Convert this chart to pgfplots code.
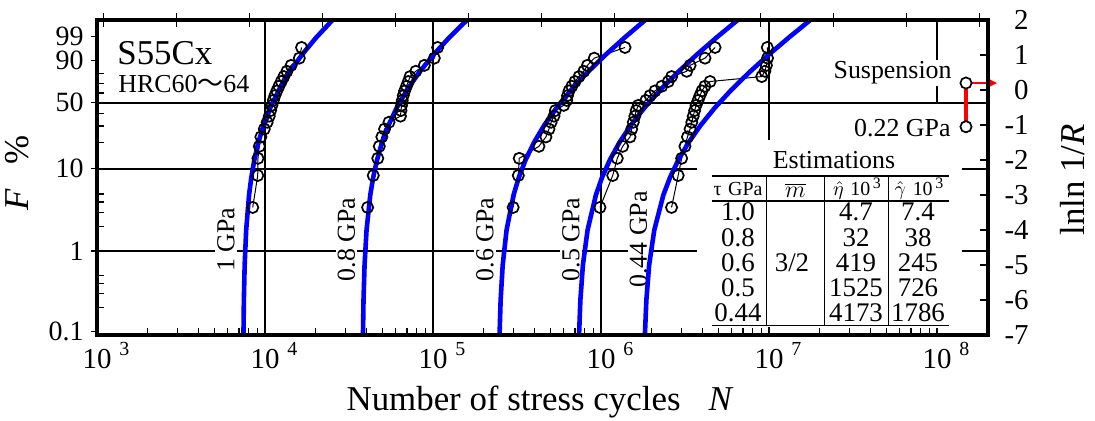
\documentclass[border=0pt]{standalone}
\usepackage{fontspec}
\setmainfont{Liberation Serif}
\newfontfamily\cjk{Noto Sans CJK JP}
\usepackage{pgfplots}
\pgfplotsset{compat=1.18}
\usepackage{pgfplotstable}
\usetikzlibrary{arrows.meta}

\newcommand\fsz[1]{\fontsize{#1}{#1}\selectfont}
\newcommand\dec[1]{10\rlap{\hspace{4bp}\raisebox{6.2bp}{\fsz{10}#1}}}

% lnln(1/R) at median ranks (i-0.3)/(n+0.4), n=20; N for each stress level
\pgfplotstableread{
v       s1     s2      s3       s4       s5
-3.355  8450   40800   300000   986000   2630000
-2.442  9050   44100   322000   1174000  2880000
-1.952  9080   46900   326000   1250000  3020000
-1.609  9250   47900   427000   1346000  3160000
-1.340  9450   49600   470000   1489000  3270000
-1.116  9900   51500   490000   1523000  3390000
-0.921  10300  54700   505000   1557000  3470000
-0.747  10600  64000   525000   1590000  3540000
-0.587  10800  64500   535000   1620000  3610000
-0.438  11000  65000   600000   1667000  3680000
-0.297  11200  65600   625000   1850000  3780000
-0.160  11450  66500   632000   1959000  3880000
-0.026  11750  67800   645000   2096000  3990000
0.107   12100  69500   670000   2300000  4150000
0.243   12500  71300   700000   2516000  4460000
0.384   12950  73000   740000   2633000  9050000
0.535   13500  79000   790000   3238000  9450000
0.704   14300  88800   830000   3390000  9650000
0.910   16000  101800  912000   4160000  9800000
1.216   16500  106600  1390000  4775000  9770000
}\fails

\begin{document}
\begin{tikzpicture}
\begin{axis}[
  scale only axis, width=445.5bp, height=157.5bp,
  xmode=log, xmin=1000, xmax=2.012e8, ymin=-7, ymax=2,
  axis line style={line width=2bp},
  tick style={line width=0.6bp, black},
  tick align=inside,
  major tick length=3.5bp, minor tick length=3.5bp,
  xtick={1e3,1e4,1e5,1e6,1e7,1e8},
  xticklabels={\dec{3},\dec{4},\dec{5},\dec{6},\dec{7},\dec{8}},
  minor xtick={2e3,3e3,4e3,5e3,6e3,7e3,8e3,9e3,
    2e4,3e4,4e4,5e4,6e4,7e4,8e4,9e4,
    2e5,3e5,4e5,5e5,6e5,7e5,8e5,9e5,
    2e6,3e6,4e6,5e6,6e6,7e6,8e6,9e6,
    2e7,3e7,4e7,5e7,6e7,7e7,8e7,9e7},
  xtick pos=left, ytick pos=left,
  ytick={-6.2136,-5.8078,-5.5194,-5.2958,-3.9019,-3.4913,-3.1985,-2.9702,
    -1.4999,-1.0309,-0.6717,-0.0874,0.1856,0.4759},
  yticklabels={},
  extra y ticks={-6.9073,-4.6001,-2.2504,-0.3665,0.8340,1.5272},
  extra y tick labels={0.1,1,10,50,90,99},
  extra y tick style={tick align=outside, major tick length=3bp,
    yticklabel style={anchor=east, inner sep=0pt, xshift=-3.5bp, font=\fsz{14}}},
  tick label style={font=\fsz{14.5}},
  xticklabel style={anchor=base, inner sep=0pt, yshift=-16.5bp},
  clip=false,
]
% grid
\draw[line width=1.1bp] (axis cs:1e4,-7) -- (axis cs:1e4,2);
\draw[line width=1.1bp] (axis cs:1e5,-7) -- (axis cs:1e5,2);
\draw[line width=1.1bp] (axis cs:1e6,-7) -- (axis cs:1e6,2);
\draw[line width=1.1bp] (axis cs:1e7,-7) -- (axis cs:1e7,2);
\draw[line width=1.1bp] (axis cs:1e8,-0.3665) -- (axis cs:1e8,2);
\draw[line width=1.1bp] (axis cs:1000,-4.6001) -- (axis cs:2.012e8,-4.6001);
\draw[line width=1.1bp] (axis cs:1000,-2.2504) -- (axis cs:2.012e8,-2.2504);
\draw[line width=1.1bp] (axis cs:1000,-0.3665) -- (axis cs:2.012e8,-0.3665);

% stress level labels, under the curves
\tikzset{lvl/.style={rotate=90, font=\fsz{13}, fill=white, inner sep=1pt}}
\node[lvl] at (rel axis cs:0.14478,0.30317) {1 GPa};
\node[lvl] at (rel axis cs:0.28002,0.30317) {0.8 GPa};
\node[lvl] at (rel axis cs:0.43547,0.30317) {0.6 GPa};
\node[lvl] at (rel axis cs:0.53199,0.30317) {0.5 GPa};
\node[lvl] at (rel axis cs:0.60774,0.30317) {0.44 GPa};

% test data
\pgfplotsset{dat/.style={black, line width=0.5bp, mark=o, mark size=2.8bp,
  mark options={line width=0.85bp}}}
\addplot[dat] table[x=s1,y=v]{\fails};
\addplot[dat] table[x=s2,y=v]{\fails};
\addplot[dat] table[x=s3,y=v]{\fails};
\addplot[dat] table[x=s4,y=v]{\fails};
\addplot[dat] table[x=s5,y=v]{\fails};

% Weibull fits, m = 3/2
\pgfplotsset{fit/.style={blue, line width=2.3bp}}
\addplot[fit] coordinates {(7444,-7) (7486,-6) (7568,-5) (7727,-4) (8036,-3) (8288,-2.5) (8639,-2) (9129,-1.5) (9813,-1) (10768,-0.5) (12100,0) (13959,0.5) (16554,1) (20176,1.5) (25230,2)};
\addplot[fit] coordinates {(38301,-7) (38586,-6) (39142,-5) (40224,-4) (42331,-3) (44044,-2.5) (46435,-2) (49772,-1.5) (54429,-1) (60929,-0.5) (70000,0) (82660,0.5) (100328,1) (124985,1.5) (159397,2)};
\addplot[fit] coordinates {(248940,-7) (252674,-6) (259947,-5) (274113,-4) (301705,-3) (324139,-2.5) (355447,-2) (399141,-1.5) (460122,-1) (545227,-0.5) (664000,0) (829761,0.5) (1061100,1) (1383960,1.5) (1834547,2)};
\addplot[fit] coordinates {(740341,-7) (753932,-6) (780403,-5) (831962,-4) (932386,-3) (1014036,-2.5) (1127985,-2) (1287016,-1.5) (1508961,-1) (1818710,-0.5) (2251000,0) (2854308,0.5) (3696294,1) (4871380,1.5) (6511344,2)};
\addplot[fit] coordinates {(1825243,-7) (1862433,-6) (1934868,-5) (2075953,-4) (2350753,-3) (2574180,-2.5) (2886010,-2) (3321159,-1.5) (3928489,-1) (4776084,-0.5) (5959000,0) (7609889,0.5) (9913894,1) (13129391,1.5) (17616977,2)};

% suspension at 0.22 GPa
\addplot[red, line width=1.6bp] coordinates {(1.488e8,-1.05) (1.488e8,0.2)};
\addplot[red, line width=1.1bp, -{Stealth[length=4.5bp,width=4.5bp]}] coordinates {(1.488e8,0.2) (2.275e8,0.2)};
\addplot[only marks, mark=*, mark size=2.8bp, mark options={fill=white, draw=black, line width=0.85bp}]
  coordinates {(1.488e8,0.2) (1.488e8,-1.05)};
\end{axis}

\begin{axis}[
  scale only axis, width=445.5bp, height=157.5bp,
  xmode=log, xmin=1000, xmax=2.012e8, ymin=-7, ymax=2,
  axis line style={line width=2bp},
  tick style={line width=0.6bp, black},
  tick align=inside, major tick length=4bp,
  xminorticks=false, yminorticks=false,
  xtick=\empty,
  extra x ticks={1096.63,2980.96,8103.08,22026.47,59874.14,162754.79,442413.39,
    1202604.28,3269017.37,8886110.52,24154952.75,65659969.14,178482301},
  extra x tick labels={},
  extra x tick style={tick align=center, major tick length=7bp},
  xtick pos=right,
  ytick={-7,-6,-5,-4,-3,-2,-1,0,1,2},
  yticklabels={-7,-6,-5,-4,-3,-2,-1,0,1,2},
  ytick pos=right, yticklabel pos=right,
  yticklabel style={anchor=east, inner sep=0pt, xshift=20.5bp, font=\fsz{14.5}},
]
\end{axis}

% estimations table
\fill[white] (300bp,4bp) rectangle (432.5bp,97.5bp);
\node[font=\fsz{13}, inner sep=0pt] at (368.5bp,87.5bp) {Estimations};
\draw[line width=0.8bp] (307.3bp,79.5bp) -- (426.2bp,79.5bp);
\draw[line width=0.8bp] (307.3bp,67bp) -- (426.2bp,67bp);
\draw[line width=0.8bp] (307.3bp,4.8bp) -- (426.2bp,4.8bp);
\foreach \x in {334.8,363.7,395.7}
  \draw[line width=0.6bp] (\x bp,4.8bp) -- (\x bp,79.5bp);
\node[font=\fsz{10}, inner sep=0pt] at (320.5bp,72.8bp) {τ\,\,GPa};
\node[font=\fsz{13}, inner sep=0pt] at (349.2bp,72.5bp) {$\overline{m}$};
\node[font=\fsz{10}, inner sep=0pt, anchor=base] at (380bp,69.5bp) {$\hat{\eta}$\,\,10\raisebox{3.5bp}{\fsz{8}\,3}};
\node[font=\fsz{10}, inner sep=0pt, anchor=base] at (411bp,69.5bp) {$\hat{\gamma}$\,\,10\raisebox{3.5bp}{\fsz{8}\,3}};
\foreach \y/\a/\b/\c in {61.4/1.0/4.7/7.4, 48.85/0.8/32/38, 36.3/0.6/419/245, 23.75/0.5/1525/726, 11.2/0.44/4173/1786} {
  \node[font=\fsz{13.5}, inner sep=0pt] at (320.5bp,\y bp) {\a};
  \node[font=\fsz{13.5}, inner sep=0pt] at (379.5bp,\y bp) {\b};
  \node[font=\fsz{13.5}, inner sep=0pt] at (410.5bp,\y bp) {\c};
}
\node[font=\fsz{13.5}, inner sep=0pt] at (347.5bp,36.3bp) {3/2};

% annotations
\node[font=\fsz{17.5}, anchor=base west, inner sep=0pt] at (10bp,135bp) {S55Cx};
\node[font=\fsz{13}, anchor=base west, inner sep=0pt] at (10.5bp,121bp) {HRC60{\cjk 〜}64};
\node[font=\fsz{13}, fill=white, inner sep=1pt, anchor=east] at (428.5bp,131bp) {Suspension};
\node[font=\fsz{13}, fill=white, inner sep=1pt, anchor=east] at (428bp,103.5bp) {0.22 GPa};

% axis titles
\node[rotate=90, font=\fsz{17.5}] at (-40bp,81bp) {\textit{F}\hspace{0.7em}\%};
\node[font=\fsz{17.5}, anchor=base] at (221.5bp,-37.5bp) {Number of stress cycles\hspace{0.8em}\textit{N}};
\node[rotate=90, font=\fsz{17.5}] at (488bp,77.5bp) {lnln 1/\textit{R}};

\pgfresetboundingbox
\useasboundingbox (-48.5bp,-43bp) rectangle (499bp,167.5bp);
\end{tikzpicture}
\end{document}
